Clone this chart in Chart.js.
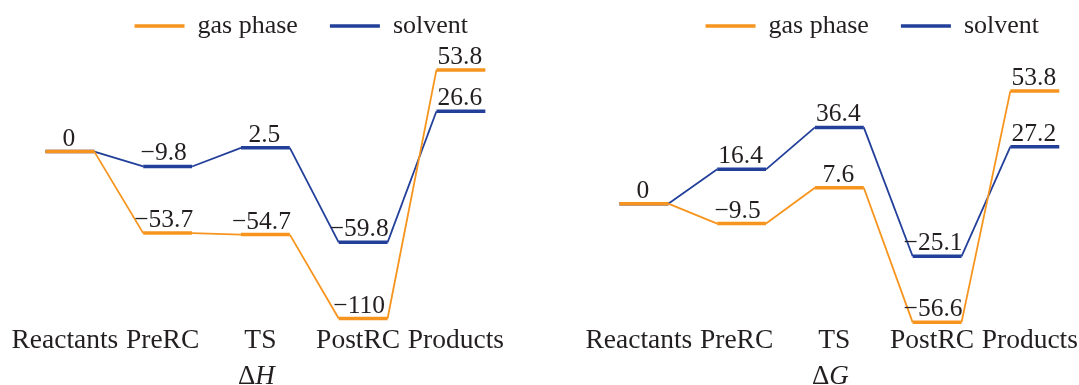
<!DOCTYPE html>
<html>
<head>
<meta charset="utf-8">
<script src="https://cdn.jsdelivr.net/npm/chart.js@4/dist/chart.umd.min.js"></script>
<style>
    body { margin: 0; background: #fff; width: 1079px; height: 385px; overflow: hidden; position: relative; }
    .panel { position: absolute; top: 0; }
</style>
</head>
<body>
<div class="panel" style="left: 0px"><canvas id="chart_h" width="520" height="385"></canvas></div>
<div class="panel" style="left: 540px"><canvas id="chart_g" width="539" height="385"></canvas></div>
<script>
const categories = ['Reactants', 'PreRC', 'TS', 'PostRC', 'Products']
const series_names = ['gas phase', 'solvent']

// enthalpy (left panel)
const gas_h = [0, -53.7, -54.7, -110, 53.8]
const solvent_h = [0, -9.8, 2.5, -59.8, 26.6]

// gibbs energy (right panel)
const gas_g = [0, -9.5, 7.6, -56.6, 53.8]
const solvent_g = [0, 16.4, 36.4, -25.1, 27.2]

const orange = '#f7941d'
const blue = '#223f9a'
const text_color = '#231f20'
const serif = "'Liberation Serif', 'Times New Roman', serif"

Chart.defaults.font.family = serif
Chart.defaults.color = text_color

// every level is a short flat piece around its category, joined by thin lines
function level_points(values) {
    let points = []
    for (let i = 0; i < values.length; i++) {
        points.push({x: i - 0.25, y: values[i]})
        points.push({x: i + 0.25, y: values[i]})
    }
    return points
}

function format_value(v) {
    if (v < 0) return '\u2212' + Math.abs(v)
    return String(v)
}

const value_labels = {
    id: 'value_labels',
    afterDatasetsDraw(chart) {
        let ctx = chart.ctx
        let xs = chart.scales.x
        let ys = chart.scales.y
        let done = []
        ctx.save()
        ctx.font = '25.5px ' + serif
        ctx.fillStyle = text_color
        ctx.textAlign = 'center'
        ctx.textBaseline = 'alphabetic'
        chart.data.datasets.forEach(ds => {
            ds.levels.forEach((v, i) => {
                let key = i + ':' + v
                if (done.includes(key)) return
                done.push(key)
                let shift = v < 0 ? -4 : -1
                ctx.fillText(format_value(v), xs.getPixelForValue(i) + shift, ys.getPixelForValue(v) - 6)
            })
        })
        ctx.restore()
    }
}

// "ΔH" / "ΔG" under the TS label, letter in italics
const axis_symbol = {
    id: 'axis_symbol',
    afterDraw(chart, args, opts) {
        let ctx = chart.ctx
        let xs = chart.scales.x
        ctx.save()
        ctx.fillStyle = text_color
        ctx.textBaseline = 'alphabetic'
        ctx.textAlign = 'left'
        ctx.font = '27px ' + serif
        let w1 = ctx.measureText('\u0394').width
        ctx.font = 'italic 27px ' + serif
        let w2 = ctx.measureText(opts.letter).width
        let x = xs.getPixelForValue(2) - 9 - (w1 + w2) / 2
        let y = xs.bottom + 27
        ctx.font = '27px ' + serif
        ctx.fillText('\u0394', x, y)
        ctx.font = 'italic 27px ' + serif
        ctx.fillText(opts.letter, x + w1, y)
        ctx.restore()
    }
}

function make_dataset(label, values, color) {
    return {
        label: label,
        levels: values,
        data: level_points(values),
        borderColor: color,
        backgroundColor: color,
        borderWidth: 3.5,
        pointRadius: 0,
        pointStyle: 'line',
        tension: 0,
        clip: false,
        segment: {
            borderWidth: ctx => ctx.p0DataIndex % 2 === 0 ? 3.5 : 1.8
        }
    }
}

function make_chart(canvas_id, gas, solvent, letter, y_min, y_max, x_max, pad_left, pad_right) {
    return new Chart(document.getElementById(canvas_id).getContext('2d'), {
        type: 'line',
        data: {
            datasets: [
                make_dataset(series_names[0], gas, orange),
                make_dataset(series_names[1], solvent, blue)
            ]
        },
        options: {
            responsive: false,
            animation: false,
            events: [],
            layout: {
                autoPadding: false,
                padding: {top: -19, bottom: 28, left: pad_left, right: pad_right}
            },
            plugins: {
                legend: {
                    position: 'top',
                    align: 'end',
                    labels: {
                        usePointStyle: true,
                        pointStyleWidth: 50,
                        padding: 32,
                        color: text_color,
                        font: {size: 26, family: serif}
                    }
                },
                tooltip: {enabled: false},
                axis_symbol: {letter: letter}
            },
            scales: {
                x: {
                    type: 'linear',
                    min: -0.5,
                    max: x_max,
                    grid: {display: false, drawTicks: false},
                    border: {display: false},
                    afterBuildTicks: scale => {
                        scale.ticks = categories.map((c, i) => ({value: i}))
                    },
                    // labels may run past the plot edge, don't shrink the plot for them
                    afterFit: scale => {
                        scale.paddingLeft = 0
                        scale.paddingRight = 0
                    },
                    ticks: {
                        autoSkip: false,
                        maxRotation: 0,
                        padding: 0,
                        labelOffset: -5,
                        color: text_color,
                        font: {size: 27.5, family: serif},
                        callback: v => categories[v]
                    }
                },
                y: {
                    display: false,
                    min: y_min,
                    max: y_max
                }
            }
        },
        plugins: [value_labels, axis_symbol]
    })
}

let chart_h = make_chart('chart_h', gas_h, solvent_h, 'H', -113.6, 67.6, 4.4, 21, 20)
let chart_g = make_chart('chart_g', gas_g, solvent_g, 'G', -57.4, 73.8, 4.37, 55, 8)
</script>
</body>
</html>
